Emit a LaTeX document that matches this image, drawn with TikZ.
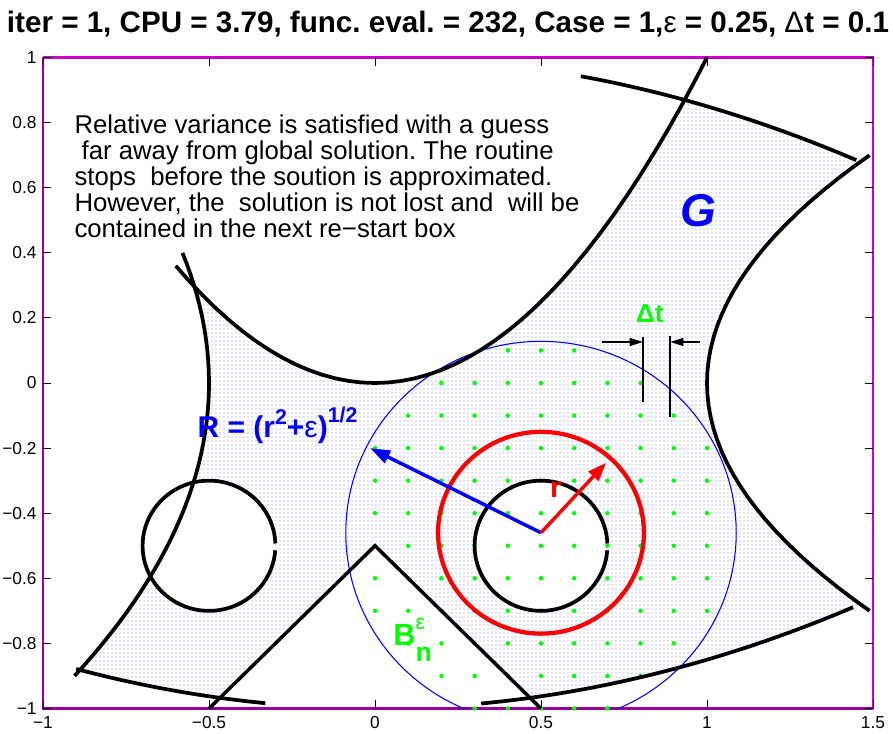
\documentclass[tikz,border=0pt]{standalone}
\usepackage{fontspec}
\setmainfont{Liberation Sans}
\usetikzlibrary{arrows.meta, patterns}
\definecolor{cblue}{HTML}{0000FF}
\definecolor{cgreen}{HTML}{00FF00}
\definecolor{cred}{HTML}{FF0000}
\definecolor{caxis}{HTML}{990099}
\definecolor{caxislt}{HTML}{CC00CC}
\definecolor{cshade}{HTML}{7878FF}
\newcommand{\raisedtxt}[2][0.42em]{\raisebox{#1}{\fontsize{16}{16}\selectfont #2}}
\frenchspacing
\tikzset{
  every picture/.style={line width=0.75pt},
  gshade/.style={pattern=dots, pattern color=cshade},
  hole/.style={fill=white},
  bound/.style={draw=black, line width=2.8pt},
  axisdk/.style={draw=caxis, line width=1.6pt},
  axislt/.style={draw=caxislt, line width=1.6pt},
  tick/.style={draw=black, line width=0.7pt},
  ticklab/.style={inner sep=0pt, font=\fontsize{13}{15}\selectfont},
  gdot/.style={fill=cgreen},
  rbig/.style={draw=cblue, line width=0.8pt},
  rring/.style={draw=cred, line width=3.2pt},
  barrow/.style={-{Triangle[length=15pt, width=10pt]}, draw=cblue, fill=cblue, line width=2.6pt},
  rarrow/.style={-{Triangle[length=14pt, width=10pt]}, draw=cred, fill=cred, line width=2.6pt},
  dtline/.style={draw=black, line width=1.1pt},
  dtarrow/.style={-{Triangle[length=10pt, width=6pt]}, draw=black, line width=1.1pt},
  note/.style={inner sep=0pt, align=left, font=\fontsize{19.3}{19.5}\selectfont},
}

\begin{document}
\begin{tikzpicture}[x=249pt, y=244.125pt, samples=41]
  \useasboundingbox (-1.12952,-1.07527) rectangle (1.56024,1.17665);

  % region G
  \fill[gshade] plot[domain=-0.5435:0.9325] (\x,{\x*\x})
    -- plot[domain=0.9325:1.461] (\x,{1-0.15*\x*\x})
    -- plot[domain=0.68:-0.68] ({1+\x*\x},\x)
    -- plot[domain=1.461:-0.889] (\x,{-1+0.15*\x*\x})
    -- plot[domain=-0.8815:0.2954] ({-0.5-0.5*\x*\x},\x) -- cycle;
  \coordinate (lc) at (-0.5,-0.5);
  \coordinate (ic) at (0.5,-0.5);
  \coordinate (ctr) at (0.5,-0.46);
  \fill[hole] (lc) circle[radius=0.2];
  \fill[hole] (ic) circle[radius=0.2];
  \fill[hole] (-0.5,-1) -- (0,-0.5) -- (0.5,-1) -- cycle;

  % axes
  \draw[axisdk] (-1,1) -- (-1,-1) -- (1.5,-1);
  \draw[axislt] (-1,1) -- (1.5,1) -- (1.5,-1);
  \foreach \t/\lab [count=\k] in {-1/−1, -0.5/−0.5, 0/0, 0.5/0.5, 1/1, 1.5/1.5} {
    \draw[tick] (\t,-1) -- ++(0,0.0246);
    \draw[tick] (\t,1) -- ++(0,-0.0246);
    \node[ticklab, anchor=north] (xlab\k) at (\t,-1.022) {\lab};
  }
  \foreach \t/\lab [count=\k] in {-1/−1, -0.8/−0.8, -0.6/−0.6, -0.4/−0.4, -0.2/−0.2, 0/0, 0.2/0.2, 0.4/0.4, 0.6/0.6, 0.8/0.8, 1/1} {
    \draw[tick] (-1,\t) -- ++(0.024,0);
    \draw[tick] (1.5,\t) -- ++(-0.024,0);
    \node[ticklab, anchor=east] (ylab\k) at (-1.018,\t) {\lab};
  }

  % grid of trial points
  \foreach \i in {-1,...,11}
    \foreach \j in {-10,...,1} {
      \pgfmathparse{((\i/10-0.5)^2+(\j/10+0.46)^2<0.346) ? 1 : 0}
      \ifdim\pgfmathresult pt>0.5pt \fill[gdot] (\i/10,\j/10) circle[radius=1.7pt]; \fi
    }

  \begin{scope}
    \clip (-1,-1) rectangle (1.5,1);
    \draw[rbig] (ctr) circle[radius=0.588];
  \end{scope}

  % boundaries
  \draw[bound] plot[domain=-0.6:1] (\x,{\x*\x});
  \draw[bound] plot[domain=-0.9:0.4] ({-0.5-0.5*\x*\x},\x);
  \draw[bound] plot[domain=0.62:1.45] (\x,{1-0.15*\x*\x});
  \draw[bound] plot[domain=-0.7:0.7] ({1+\x*\x},\x);
  \draw[bound] plot[domain=-0.9:-0.33] (\x,{-1+0.15*\x*\x});
  \draw[bound] plot[domain=0.32:1.44] (\x,{-1+0.15*\x*\x});
  \draw[bound, line width=2.6pt] (-0.5,-1) -- (0,-0.5) -- (0.5,-1);
  \draw[bound] ([shift={(2:0.2)}]lc) arc[start angle=2, end angle=356, radius=0.2];
  \draw[bound] ([shift={(2:0.2)}]ic) arc[start angle=2, end angle=356, radius=0.2];
  \draw[rring] (ctr) circle[radius=0.31];

  % radii
  \coordinate (Rend) at (-0.015,-0.2);
  \coordinate (rend) at (0.696,-0.245);
  \draw[barrow] (ctr) -- (Rend);
  \draw[rarrow] (ctr) -- (rend);

  % step width
  \coordinate (dta) at (0.807,0.141);
  \coordinate (dtb) at (0.807,-0.058);
  \coordinate (dtc) at (0.889,0.144);
  \coordinate (dtd) at (0.889,-0.104);
  \coordinate (dtL) at (0.807,0.126);
  \coordinate (dtR) at (0.889,0.126);
  \coordinate (dtLs) at (0.684,0.126);
  \coordinate (dtRs) at (0.979,0.126);
  \draw[dtline] (dta) -- (dtb);
  \draw[dtline] (dtc) -- (dtd);
  \draw[dtarrow] (dtLs) -- (dtL);
  \draw[dtarrow] (dtRs) -- (dtR);

  % labels
  \node[anchor=base, font=\bfseries\fontsize{22.2}{26}\selectfont] (title) at (0.2199,1.0753)
    {iter = 1, CPU = 3.79, func. eval. = 232, Case = 1,{\mdseries ε} = 0.25, {\mdseries Δ}t = 0.1};
  \node[note, anchor=north west] (msg) at (-0.9066,0.826)
    {Relative variance is satisfied with a guess\\\hspace*{0.278em}far away from global solution. The routine\\stops\ \ before the soution is approximated.\\However, the\ \ solution is not lost and\ \ will be\\contained in the next re−start box};
  \node[text=cblue, font=\bfseries\itshape\fontsize{34.5}{40}\selectfont] (glab) at (0.973,0.531) {G};
  \node[text=cgreen, font=\bfseries\fontsize{19.5}{22}\selectfont] (dtlab) at (0.828,0.212) {Δt};
  \node[anchor=base west, inner sep=0pt, text=cblue, font=\bfseries\fontsize{22.5}{26}\selectfont] (Rlab) at (-0.536,-0.166)
    {R = (r\raisedtxt{2}+{\mdseries ε})\raisedtxt[0.5em]{1/2}};
  \node[text=cred, font=\bfseries\fontsize{22}{26}\selectfont] (rlab) at (0.545,-0.329) {r};
  \node[anchor=base west, inner sep=0pt, text=cgreen, font=\bfseries\fontsize{23}{26}\selectfont] (blab) at (0.054,-0.805)
    {B\rlap{\raisebox{0.5em}{\mdseries\fontsize{16}{16}\selectfont ε}}\raisebox{-0.55em}{\fontsize{20}{20}\selectfont n}};
\end{tikzpicture}
\end{document}
